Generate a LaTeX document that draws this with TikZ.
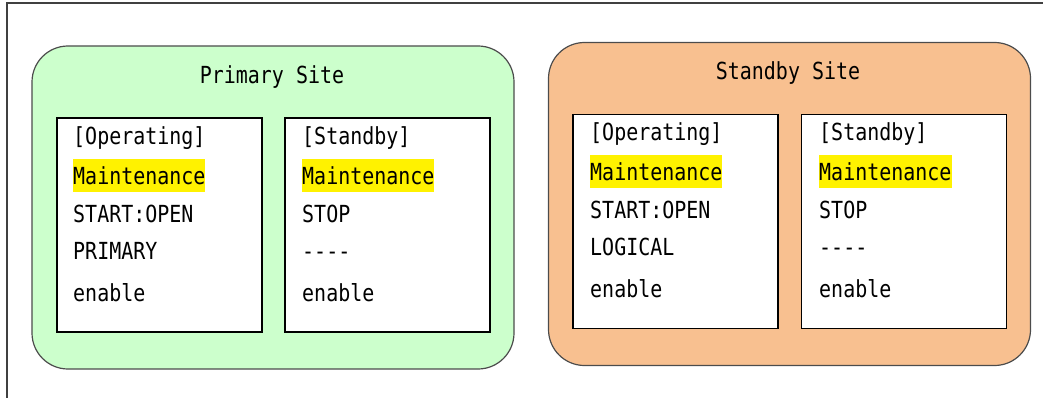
\documentclass[tikz,border=0pt]{standalone}
\usepackage{fontspec}
\setmonofont[FakeStretch=0.85]{DejaVu Sans Mono}
\definecolor{sitegreen}{RGB}{204,255,204}
\definecolor{siteorange}{RGB}{248,192,144}
\begin{document}
\begin{tikzpicture}[x=1pt,y=-1pt,
    every node/.style={font=\ttfamily\fontsize{23.5}{28}\selectfont},
    site/.style={draw=black!70, line width=1.2pt, rounded corners=36pt, minimum width=482pt, minimum height=323pt, inner sep=0pt},
    statebox/.style={draw=black, line width=1.4pt, fill=white, minimum width=205pt, minimum height=214pt, inner sep=0pt},
    line/.style={anchor=base west, inner sep=0pt},
    hilite/.style={line, fill=yellow, text height=25pt, text depth=8pt}]
    \useasboundingbox (0,0) rectangle (1043,398);
    \draw [black!75, line width=1.6pt] (7,398) -- (7,3) -- (1043,3);
    % primary site
    \node [site, fill=sitegreen] (primsite) at (273,207.5) {};
    \node [anchor=base] (primtitle) at (272,84) {Primary Site};
    \node [statebox] (primop) at (159.5,225) {};
    \node [statebox] (primsb) at (387.5,225) {};
    \node [line] (primop1) at (73,145) {[Operating]};
    \node [hilite] (primop2) at (73,184) {Maintenance};
    \node [line] (primop3) at (73,222) {START:OPEN};
    \node [line] (primop4) at (73,259) {PRIMARY};
    \node [line] (primop5) at (73,301) {enable};
    \node [line] (primsb1) at (302,145) {[Standby]};
    \node [hilite] (primsb2) at (302,184) {Maintenance};
    \node [line] (primsb3) at (302,222) {STOP};
    \node [line] (primsb4) at (302,259) {----};
    \node [line] (primsb5) at (302,301) {enable};
    % standby site
    \node [site, fill=siteorange] (stbysite) at (789.5,204) {};
    \node [anchor=base] (stbytitle) at (788,80) {Standby Site};
    \node [statebox] (stbyop) at (675.5,221.5) {};
    \node [statebox] (stbysb) at (904,221.5) {};
    \node [line] (stbyop1) at (590,141) {[Operating]};
    \node [hilite] (stbyop2) at (590,180) {Maintenance};
    \node [line] (stbyop3) at (590,218) {START:OPEN};
    \node [line] (stbyop4) at (590,255) {LOGICAL};
    \node [line] (stbyop5) at (590,297) {enable};
    \node [line] (stbysb1) at (819,141) {[Standby]};
    \node [hilite] (stbysb2) at (819,180) {Maintenance};
    \node [line] (stbysb3) at (819,218) {STOP};
    \node [line] (stbysb4) at (819,255) {----};
    \node [line] (stbysb5) at (819,297) {enable};
\end{tikzpicture}
\end{document}
